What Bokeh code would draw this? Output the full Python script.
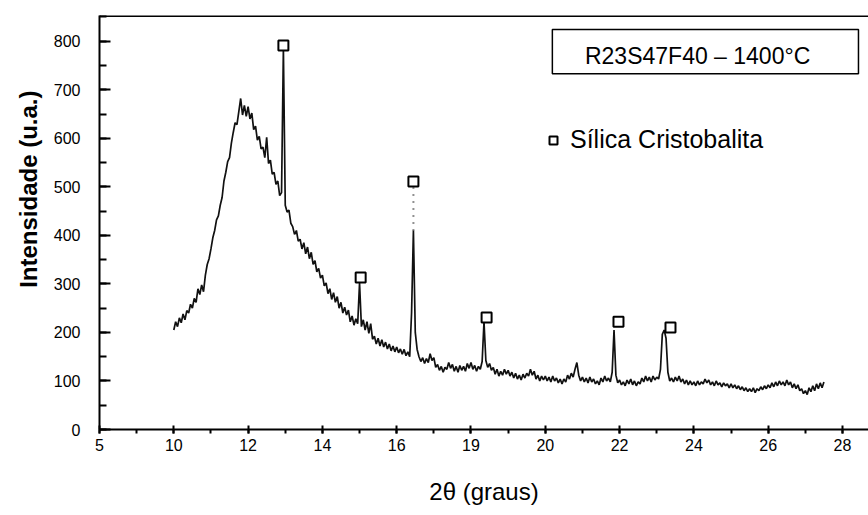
from bokeh.plotting import figure
from bokeh.models import (FixedTicker, Span, BoxAnnotation, Label, Legend,
                          LegendItem, Range1d, Title)
from bokeh.embed import file_html
from bokeh.resources import INLINE

two_theta_start = 10.0
two_theta_step = 0.05
intensity = [
    # 10.00 - 10.95
    205, 222, 212, 230, 220, 238, 226, 245, 240, 258, 250, 270, 262, 290, 278, 298, 284, 318, 340, 352,
    # 11.00 - 11.95
    372, 395, 410, 432, 440, 462, 478, 512, 530, 552, 560, 590, 612, 632, 628, 655, 682, 648, 668, 645,
    # 12.00 - 12.95
    665, 640, 652, 618, 625, 596, 604, 578, 582, 560, 602, 548, 555, 526, 530, 505, 512, 482, 488, 785,
    # 13.00 - 13.95
    462, 448, 452, 425, 418, 402, 410, 388, 392, 372, 385, 362, 376, 352, 365, 340, 348, 325, 332, 312,
    # 14.00 - 14.95
    318, 296, 302, 280, 290, 268, 282, 262, 274, 250, 262, 240, 252, 236, 246, 222, 234, 215, 228, 218,
    # 15.00 - 15.95
    302, 212, 226, 205, 222, 198, 218, 186, 192, 176, 188, 172, 185, 170, 180, 166, 176, 162, 172, 160,
    # 16.00 - 16.95
    170, 158, 166, 155, 165, 152, 160, 150, 240, 410, 200, 165, 150, 140, 148, 136, 146, 138, 156, 142,
    # 17.00 - 17.95
    148, 128, 134, 122, 130, 118, 128, 124, 138, 126, 134, 120, 130, 118, 132, 122, 130, 120, 136, 126,
    # 18.00 - 18.95
    138, 124, 132, 120, 130, 124, 140, 222, 142, 128, 136, 122, 128, 114, 124, 110, 120, 112, 124, 114,
    # 19.00 - 19.95
    122, 110, 118, 106, 116, 104, 112, 102, 114, 106, 116, 110, 124, 112, 120, 104, 112, 100, 110, 102,
    # 20.00 - 20.95
    110, 100, 108, 98, 110, 100, 106, 96, 104, 94, 104, 98, 112, 104, 116, 108, 124, 138, 112, 100,
    # 21.00 - 21.95
    108, 98, 106, 96, 108, 98, 104, 94, 100, 92, 106, 98, 110, 100, 106, 98, 118, 205, 112, 96,
    # 22.00 - 22.95
    102, 92, 98, 90, 102, 94, 104, 92, 100, 90, 98, 94, 106, 98, 110, 100, 108, 98, 110, 102,
    # 23.00 - 23.95
    108, 104, 124, 196, 205, 188, 118, 100, 106, 98, 108, 100, 110, 98, 104, 94, 102, 92, 100, 92,
    # 24.00 - 24.95
    98, 90, 100, 92, 98, 94, 104, 96, 102, 92, 98, 90, 100, 92, 96, 88, 96, 90, 94, 86,
    # 25.00 - 25.95
    94, 86, 92, 84, 90, 82, 88, 80, 86, 78, 84, 78, 86, 76, 84, 80, 88, 82, 90, 84,
    # 26.00 - 26.95
    92, 86, 96, 88, 98, 90, 100, 92, 98, 90, 102, 92, 98, 86, 94, 84, 92, 80, 84, 74,
    # 27.00 - 27.50
    80, 72, 86, 78, 90, 80, 94, 84, 96, 86, 98,
]
two_theta = [round(two_theta_start + i * two_theta_step, 2) for i in range(len(intensity))]

# Silica cristobalite markers
peak_marker_x = [12.95, 15.03, 16.45, 18.42, 21.97, 23.37]
peak_marker_y = [791, 313, 511, 231, 222, 210]

# faded (dotted) upper part of the 16.45 peak
faded_peak_x = [16.45, 16.45]
faded_peak_y = [410, 500]

x_tick_values = [8, 10, 12, 14, 16, 18, 20, 22, 24, 26, 28]
x_tick_labels = ["5", "10", "12", "14", "16", "19", "20", "22", "24", "26", "28"]
x_minor_values = list(range(8, 29))
y_tick_values = [0, 100, 200, 300, 400, 500, 600, 700, 800]
y_minor_values = list(range(0, 851, 50))

sample_title = "R23S47F40 \u2013 1400\u00b0C"
legend_label = "S\u00edlica Cristobalita"
x_label = "2\u03b8 (graus)"
y_label = "Intensidade (u.a.)"

FONT = "Liberation Sans"

# ---------------- figure ----------------
p = figure(width=868, height=515,
           x_range=Range1d(8, 28.7), y_range=Range1d(0, 853),
           output_backend="svg", toolbar_location=None,
           min_border_left=99, min_border_right=0,
           min_border_top=15, min_border_bottom=86)

p.outline_line_color = None
p.xgrid.grid_line_color = None
p.ygrid.grid_line_color = None
p.background_fill_color = "white"
p.border_fill_color = "white"

# x axis
xa = p.xaxis[0]
xa.ticker = FixedTicker(ticks=x_tick_values, minor_ticks=x_minor_values)
xa.major_label_overrides = {v: s for v, s in zip(x_tick_values, x_tick_labels)}
xa.axis_line_width = 2
xa.axis_line_color = "black"
xa.major_tick_line_width = 2
xa.major_tick_line_color = "black"
xa.major_tick_in = 4
xa.major_tick_out = 4
xa.minor_tick_line_width = 2
xa.minor_tick_line_color = "black"
xa.minor_tick_in = 0
xa.minor_tick_out = 4
xa.major_label_standoff = 5
xa.major_label_text_font = FONT
xa.major_label_text_font_size = "16px"
xa.major_label_text_color = "black"
xa.axis_label = x_label
xa.axis_label_standoff = 24
xa.axis_label_text_font = FONT
xa.axis_label_text_font_size = "24px"
xa.axis_label_text_font_style = "normal"
xa.axis_label_text_color = "black"

# y axis
ya = p.yaxis[0]
ya.ticker = FixedTicker(ticks=y_tick_values, minor_ticks=y_minor_values)
ya.axis_line_width = 2
ya.axis_line_color = "black"
ya.major_tick_line_width = 2
ya.major_tick_line_color = "black"
ya.major_tick_in = 11
ya.major_tick_out = 0
ya.minor_tick_line_width = 2
ya.minor_tick_line_color = "black"
ya.minor_tick_in = 7
ya.minor_tick_out = 0
ya.major_label_standoff = 19
ya.major_label_text_font = FONT
ya.major_label_text_font_size = "16px"
ya.major_label_text_color = "black"

# y axis title as a side-panel title, shifted up like the reference
p.add_layout(Title(text=y_label, align="right", offset=75, standoff=18,
                   text_font=FONT, text_font_size="24px", text_font_style="bold",
                   text_color="black"), "left")

# top frame line
p.add_layout(Span(location=853, dimension="width", line_color="black", line_width=3))

# pattern
p.line(two_theta, intensity, line_color="#111111", line_width=1.7)
p.line(faded_peak_x, faded_peak_y, line_color="#222222", line_width=2, line_dash="1 6")

markers = p.scatter(peak_marker_x, peak_marker_y, marker="square", size=10,
                    fill_color="white", line_color="black", line_width=2)

# legend entry for the marker
legend = Legend(items=[LegendItem(label=legend_label, renderers=[markers])],
                location=(444, 275), orientation="vertical",
                glyph_width=20, glyph_height=20, label_standoff=7,
                padding=0, margin=0, spacing=0,
                border_line_color=None, background_fill_alpha=0,
                label_text_font=FONT, label_text_font_size="25px",
                label_text_color="black")
p.add_layout(legend)

# sample title box
p.add_layout(BoxAnnotation(left=20.19, right=28.43, bottom=733, top=824,
                           fill_alpha=0, line_color="black", line_alpha=1,
                           line_width=1.5))
p.add_layout(Label(x=24.1, y=770, text=sample_title, text_align="center",
                   text_baseline="middle", text_font=FONT, text_font_size="23px",
                   text_color="black"))

open("out.html", "w").write(file_html(p, INLINE))
